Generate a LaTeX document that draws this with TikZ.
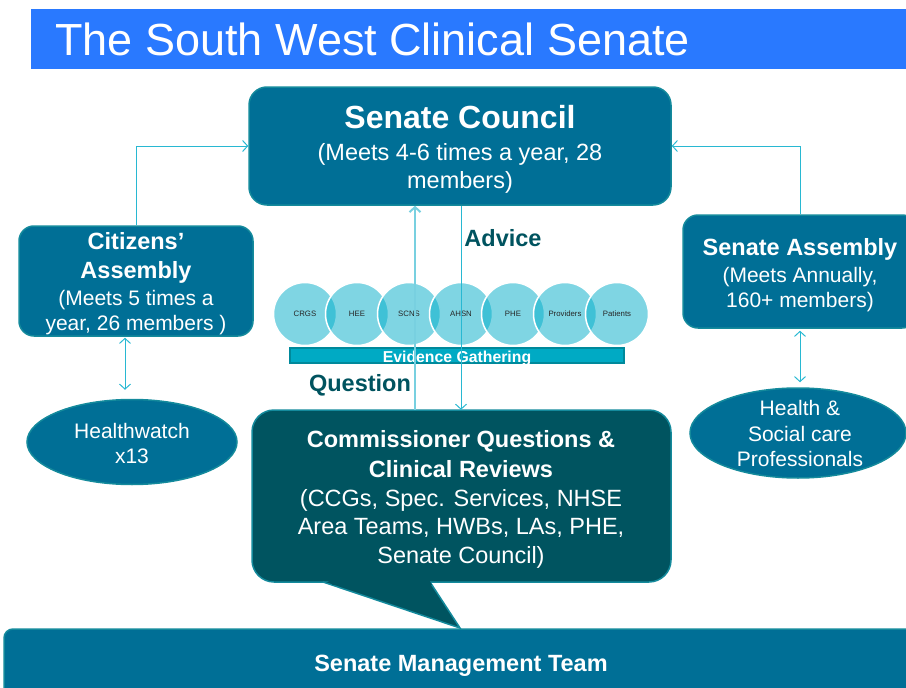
\documentclass[tikz,border=0pt]{standalone}
\usepackage{fontspec}
\setmainfont{Liberation Sans}
\usetikzlibrary{arrows.meta,shapes.geometric}
\definecolor{titleblue}{RGB}{41,121,255}
\definecolor{boxc}{RGB}{0,111,150}
\definecolor{bordc}{RGB}{20,138,156}
\definecolor{callc}{RGB}{0,84,96}
\definecolor{linec}{RGB}{40,184,210}
\definecolor{qlinec}{RGB}{120,208,224}
\definecolor{circc}{RGB}{0,172,200}
\definecolor{barc}{RGB}{0,170,196}
\definecolor{barb}{RGB}{0,137,155}
\definecolor{darkt}{RGB}{0,83,95}
\tikzset{
  box/.style={draw=bordc, line width=1.5pt, fill=boxc, inner sep=0pt, rectangle},
  ell/.style={draw=bordc, line width=1.5pt, fill=boxc, inner sep=0pt, ellipse},
  wt/.style={text=white, anchor=base, inner sep=0pt},
  bigb/.style={font=\fontsize{32}{36}\selectfont\bfseries},
  medb/.style={font=\fontsize{23.5}{28}\selectfont\bfseries},
  medr/.style={font=\fontsize{23.5}{28}\selectfont},
  smr/.style={font=\fontsize{21}{25}\selectfont},
  conn/.style={draw=linec, line width=1pt},
  qconn/.style={draw=qlinec, line width=2pt},
  tip/.style={-{Straight Barb[length=5pt,width=11pt]}},
  dtip/.style={{Straight Barb[length=5pt,width=11pt]}-{Straight Barb[length=5pt,width=11pt]}},
  circ/.style={circle, minimum size=63pt, inner sep=0pt, fill=circc, fill opacity=0.5, text opacity=1, draw=white, draw opacity=1, line width=1.5pt, text=black!85, font=\fontsize{7.8}{9}\selectfont},
}
\begin{document}
\begin{tikzpicture}[x=1pt,y=-1pt]
\useasboundingbox (0,0) rectangle (906,688);
% title
\fill[titleblue] (31,9) rectangle (912,69);
\node[wt, anchor=base west, font=\fontsize{45}{50}\selectfont] (title) at (55,55) {The South West Clinical Senate};

% Senate Council
\node[box, rounded corners=18pt, minimum width=422pt, minimum height=118pt] (sc) at (460,146) {};
\node[wt, bigb] (sc1) at (460,128) {Senate Council};
\node[wt, medr] (sc2) at (460,160) {(Meets 4-6 times a year, 28};
\node[wt, medr] (sc3) at (460,188) {members)};

% Citizens' Assembly
\node[box, rounded corners=15pt, minimum width=234pt, minimum height=110pt] (ca) at (136,281) {};
\node[wt, medb] (ca1) at (136,249) {Citizens’};
\node[wt, medb] (ca2) at (136,278) {Assembly};
\node[wt, smr] (ca3) at (136,305) {(Meets 5 times a};
\node[wt, smr] (ca4) at (136,330) {year, 26 members )};

% Senate Assembly
\node[box, rounded corners=15pt, minimum width=234pt, minimum height=113pt] (sa) at (800,271.5) {};
\node[wt, medb] (sa1) at (800,255) {Senate Assembly};
\node[wt, smr] (sa2) at (800,282) {(Meets Annually,};
\node[wt, smr] (sa3) at (800,307) {160+ members)};

% ellipses
\node[ell, minimum width=210pt, minimum height=85pt] (hw) at (132,442) {};
\node[wt, smr] (hw1) at (132,438) {Healthwatch};
\node[wt, smr] (hw2) at (132,463) {x13};
\node[ell, minimum width=216pt, minimum height=90pt] (hp) at (798,433) {};
\node[wt, smr] (hp1) at (800,415) {Health \&};
\node[wt, smr] (hp2) at (800,441) {Social care};
\node[wt, smr] (hp3) at (800,466) {Professionals};

% circles
\node[circ] (c1) at (305,314) {CRGS};
\node[circ] (c2) at (357,314) {HEE};
\node[circ] (c3) at (409,314) {SCNS};
\node[circ] (c4) at (461,314) {AHSN};
\node[circ] (c5) at (513,314) {PHE};
\node[circ] (c6) at (565,314) {Providers};
\node[circ] (c7) at (617,314) {Patients};

% evidence bar
\node[rectangle, fill=barc, draw=barb, line width=1.5pt, minimum width=334pt, minimum height=15pt, inner sep=0pt] (eb) at (457,355.5) {};
\node[wt, font=\fontsize{15.8}{18}\selectfont\bfseries] (ebt) at (457,362) {Evidence Gathering};

% callout
\filldraw[draw=bordc, line width=1.5pt, fill=callc, rounded corners=22pt] (252,410) rectangle (671,582);
\filldraw[draw=bordc, line width=1.5pt, fill=callc, line join=miter] (323,582) -- (460,628) -- (430,582);
\fill[callc] (326,579.5) -- (429,579.5) -- (432,585) -- (333,585) -- cycle;
\node[rectangle, inner sep=0pt, minimum width=418pt, minimum height=172pt] (cq) at (461,496) {};
\node[wt, medb] (cq1) at (461,447) {Commissioner Questions \&};
\node[wt, medb] (cq2) at (461,477) {Clinical Reviews};
\node[wt, medr] (cq3) at (461,506) {(CCGs, Spec. Services, NHSE};
\node[wt, medr] (cq4) at (461,534) {Area Teams, HWBs, LAs, PHE,};
\node[wt, medr] (cq5) at (461,563) {Senate Council)};

% management bar
\filldraw[draw=bordc, line width=1.5pt, fill=boxc, rounded corners=9pt] (4,700) -- (4,629) -- (915,629) -- (915,700) -- cycle;
\node[wt, medb] (smt) at (461,671) {Senate Management Team};

% labels
\node[anchor=base, inner sep=0pt, text=darkt, medb] (adv) at (503,246) {Advice};
\node[anchor=base, inner sep=0pt, text=darkt, medb] (que) at (360,391) {Question};

% connectors
\draw[conn, tip] (ca.north) |- (sc.west);
\draw[conn, tip] (sa.north) |- (sc.east);
\draw[conn, dtip] ([xshift=-11pt,yshift=-1pt]ca.south) -- ([xshift=-7pt,yshift=9pt]hw.north);
\draw[conn, dtip] ([yshift=-2pt]sa.south) -- ([xshift=2pt,yshift=5pt]hp.north);
\draw[qconn, tip] ([xshift=-46pt]cq.north) -- ([xshift=-45pt]sc.south);
\draw[conn, tip] ([xshift=1pt]sc.south) -- (cq.north);
\end{tikzpicture}
\end{document}
